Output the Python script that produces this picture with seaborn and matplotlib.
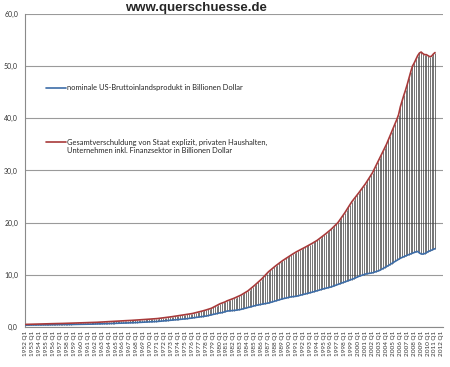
import numpy as np
import pandas as pd
import seaborn as sns
from matplotlib import pyplot as plt

# quarterly axis categories 1952 Q1 .. 2012 Q1, data up to 2011 Q1
years = list(range(1952, 2013))
categories = [f"{y} Q{q}" for y in years for q in range(1, 5)][:241]

gdp_label = "nominale US-Bruttoinlandsprodukt in Billionen Dollar"
debt_label = ("Gesamtverschuldung von Staat explizit, privaten Haushalten,\n"
              "Unternehmen inkl. Finanzsektor in Billionen Dollar")

# nominal GDP, trillion $, one row per year (Q1..Q4)
gdp = [
    0.36, 0.37, 0.37, 0.38,  0.39, 0.39, 0.39, 0.39,  0.39, 0.39, 0.39, 0.40,
    0.41, 0.41, 0.42, 0.43,  0.43, 0.44, 0.44, 0.45,  0.46, 0.46, 0.46, 0.46,
    0.46, 0.46, 0.47, 0.48,  0.50, 0.50, 0.51, 0.51,  0.53, 0.53, 0.53, 0.53,
    0.53, 0.54, 0.55, 0.56,  0.57, 0.58, 0.59, 0.59,  0.60, 0.61, 0.62, 0.63,
    0.64, 0.65, 0.66, 0.67,  0.68, 0.70, 0.71, 0.73,  0.75, 0.76, 0.77, 0.79,
    0.80, 0.81, 0.82, 0.83,  0.85, 0.87, 0.89, 0.90,  0.92, 0.94, 0.95, 0.97,
    0.99, 1.01, 1.03, 1.04,  1.06, 1.09, 1.11, 1.14,  1.17, 1.20, 1.23, 1.27,
    1.30, 1.33, 1.36, 1.39,  1.42, 1.45, 1.48, 1.51,  1.55, 1.59, 1.64, 1.69,
    1.75, 1.79, 1.83, 1.88,  1.92, 1.96, 2.01, 2.05,  2.10, 2.18, 2.26, 2.34,
    2.42, 2.50, 2.57, 2.65,  2.72, 2.74, 2.85, 2.96,  3.05, 3.08, 3.13, 3.15,
    3.16, 3.21, 3.26, 3.31,  3.37, 3.46, 3.56, 3.65,  3.74, 3.83, 3.91, 4.00,
    4.09, 4.16, 4.23, 4.29,  4.36, 4.42, 4.48, 4.54,  4.60, 4.70, 4.80, 4.90,
    5.00, 5.10, 5.19, 5.29,  5.39, 5.47, 5.56, 5.64,  5.73, 5.78, 5.82, 5.85,
    5.89, 5.98, 6.07, 6.15,  6.24, 6.32, 6.40, 6.48,  6.56, 6.66, 6.76, 6.85,
    6.95, 7.05, 7.15, 7.24,  7.34, 7.42, 7.50, 7.58,  7.67, 7.79, 7.91, 8.04,
    8.16, 8.28, 8.40, 8.52,  8.64, 8.75, 8.87, 8.98,  9.10, 9.25, 9.40, 9.55,
    9.70, 9.82, 9.93, 10.05,  10.16, 10.22, 10.28, 10.33,  10.39, 10.50, 10.61, 10.73,
    10.84, 11.02, 11.20, 11.38,  11.56, 11.76, 11.96, 12.16,  12.36, 12.57, 12.77, 12.98,
    13.18, 13.33, 13.47, 13.62,  13.76, 13.89, 14.03, 14.16,  14.29, 14.40, 14.48, 14.19,
    14.01, 13.97, 14.07, 14.22,  14.45, 14.58, 14.72, 14.87,  15.01,
]

# total debt incl. financial sector, trillion $
debt = [
    0.50, 0.51, 0.52, 0.52,  0.53, 0.54, 0.55, 0.55,  0.56, 0.57, 0.58, 0.59,
    0.60, 0.61, 0.62, 0.63,  0.64, 0.65, 0.66, 0.66,  0.67, 0.68, 0.69, 0.69,
    0.70, 0.71, 0.72, 0.74,  0.75, 0.76, 0.78, 0.79,  0.80, 0.81, 0.82, 0.83,
    0.84, 0.85, 0.87, 0.88,  0.89, 0.90, 0.92, 0.93,  0.95, 0.97, 0.98, 1.00,
    1.02, 1.04, 1.06, 1.08,  1.10, 1.12, 1.14, 1.16,  1.18, 1.20, 1.22, 1.23,
    1.25, 1.27, 1.29, 1.31,  1.33, 1.36, 1.38, 1.41,  1.43, 1.45, 1.48, 1.50,
    1.52, 1.54, 1.57, 1.59,  1.62, 1.66, 1.70, 1.73,  1.77, 1.82, 1.86, 1.91,
    1.96, 2.01, 2.07, 2.12,  2.17, 2.21, 2.26, 2.30,  2.35, 2.41, 2.47, 2.52,
    2.58, 2.66, 2.73, 2.81,  2.88, 2.98, 3.08, 3.17,  3.27, 3.38, 3.48, 3.59,
    3.75, 3.93, 4.10, 4.28,  4.45, 4.57, 4.70, 4.82,  5.00, 5.12, 5.25, 5.37,
    5.50, 5.65, 5.80, 5.95,  6.10, 6.30, 6.50, 6.70,  6.90, 7.17, 7.45, 7.72,
    8.00, 8.30, 8.60, 8.90,  9.20, 9.55, 9.90, 10.25,  10.60, 10.88, 11.15, 11.43,
    11.70, 11.95, 12.20, 12.45,  12.70, 12.92, 13.15, 13.37,  13.60, 13.80, 14.00, 14.20,
    14.40, 14.57, 14.75, 14.92,  15.10, 15.27, 15.45, 15.62,  15.80, 16.00, 16.20, 16.40,
    16.60, 16.85, 17.10, 17.35,  17.60, 17.87, 18.15, 18.42,  18.70, 19.02, 19.35, 19.67,
    20.00, 20.47, 20.95, 21.42,  21.90, 22.42, 22.95, 23.47,  24.00, 24.42, 24.85, 25.27,
    25.70, 26.15, 26.60, 27.05,  27.50, 28.02, 28.55, 29.07,  29.60, 30.27, 30.95, 31.62,
    32.30, 32.97, 33.65, 34.32,  35.00, 35.80, 36.60, 37.40,  38.20, 39.00, 39.80, 40.70,
    42.20, 43.30, 44.40, 45.40,  46.50, 47.70, 48.90, 50.00,  50.60, 51.30, 52.00, 52.50,
    52.70, 52.40, 52.20, 52.20,  52.00, 51.80, 51.90, 52.30,  52.60,
]

n = len(gdp)
df = pd.DataFrame({
    "idx": list(range(n)) * 2,
    "value": gdp + debt,
    "series": [gdp_label] * n + [debt_label] * n,
})

sns.set_style("white")
plt.rcParams['font.family'] = ['Lato', 'DejaVu Sans']

fig = plt.figure(figsize=(4.5, 3.67), dpi=100)
ax = fig.add_axes([0.0556, 0.109, 0.9284, 0.853])

# high-low lines between the two series
ax.vlines(range(n), gdp, debt, color="#3c3c3c", lw=0.5, zorder=1)

sns.lineplot(data=df, x="idx", y="value", hue="series",
             palette={gdp_label: "#3D6DA8", debt_label: "#A83A3A"},
             lw=1.2, ax=ax, zorder=3)

ax.set_xlim(-0.5, 240.5)
ax.set_ylim(0, 60)
ax.set_xlabel("")
ax.set_ylabel("")

yt = [0, 10, 20, 30, 40, 50, 60]
ax.set_yticks(yt)
ax.set_yticklabels([f"{v:.1f}".replace(".", ",") for v in yt], fontsize=5, color="#333333")
ax.yaxis.grid(True, color="#9a9a9a", lw=0.8)
ax.set_axisbelow(True)

ax.set_xticks(range(0, 241, 4))
ax.set_xticklabels(categories[::4], rotation=90, fontsize=4.6, color="#333333")
ax.set_xticks(np.arange(-0.5, 241, 1), minor=True)
ax.tick_params(axis="x", which="major", length=0, pad=3)
ax.tick_params(axis="x", which="minor", length=3, color="#8a8a8a", width=0.5)
ax.tick_params(axis="y", length=3, color="#8a8a8a", width=0.8, pad=2)

for s in ["top", "right"]:
    ax.spines[s].set_visible(False)
for s in ["left", "bottom"]:
    ax.spines[s].set_color("#8a8a8a")
    ax.spines[s].set_linewidth(0.8)

handles, labels = ax.get_legend_handles_labels()
leg = ax.legend(handles, labels, loc="upper left", bbox_to_anchor=(0.05, 0.775),
                frameon=False, fontsize=5.4, handlelength=2.7, handletextpad=0.15,
                labelspacing=6.3, borderpad=0, borderaxespad=0)
# put the red key next to the first line of its two-line label
red_key = leg.get_lines()[1]
red_key.set_ydata(np.asarray(red_key.get_ydata()) + 3.0)

fig.text(0.435, 0.979, "www.querschuesse.de", ha="center", va="center",
         fontsize=9.5, fontweight="bold", family="Liberation Sans")

fig.savefig("out.png", dpi=100)
